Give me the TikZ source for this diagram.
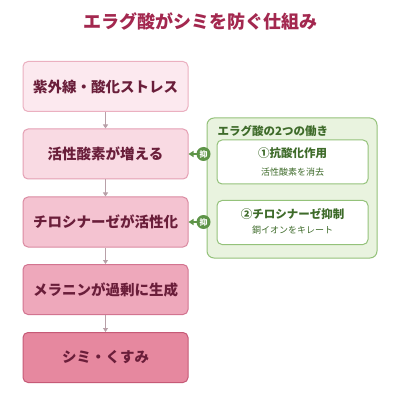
\documentclass[tikz,border=0pt]{standalone}
\usepackage{fontspec}
\newfontfamily\cjk{Noto Sans CJK JP}
\usetikzlibrary{arrows.meta}
\definecolor{ttl}{HTML}{A3284F}
\definecolor{txt}{HTML}{6A1E3A}
\definecolor{f1}{HTML}{FCE9EF}
\definecolor{f2}{HTML}{F9DAE3}
\definecolor{f3}{HTML}{F4C3D1}
\definecolor{f4}{HTML}{EEA8BB}
\definecolor{f5}{HTML}{E6889F}
\definecolor{b1}{HTML}{EBB0C0}
\definecolor{b2}{HTML}{E49FB3}
\definecolor{b3}{HTML}{DA8AA1}
\definecolor{b4}{HTML}{D27490}
\definecolor{b5}{HTML}{C65A77}
\definecolor{arr}{HTML}{B8A0A8}
\definecolor{gfill}{HTML}{E9F3DF}
\definecolor{gline}{HTML}{94C27A}
\definecolor{gtxt}{HTML}{3E6B2A}
\definecolor{gdark}{HTML}{5E9448}
\tikzset{
  flowbox/.style={draw, line width=1pt, rounded corners=5pt, minimum width=165pt, minimum height=50pt, text=txt, font=\cjk\bfseries\fontsize{14.5}{16}\selectfont, inner sep=0pt},
  innerbox/.style={draw=gline, line width=1pt, fill=white, rounded corners=5pt, minimum width=151pt, minimum height=44pt, inner sep=0pt},
  flowarr/.style={draw=arr, line width=1.2pt, -{Triangle[length=4pt,width=5pt]}},
  garr/.style={draw=gdark, line width=1.4pt, -{Triangle[length=5pt,width=6pt]}},
  badge/.style={circle, fill=gdark, minimum size=14pt, inner sep=0pt, text=white, font=\cjk\bfseries\fontsize{8}{8}\selectfont},
}
\begin{document}
\begin{tikzpicture}[x=1pt,y=-1pt]
\useasboundingbox[fill=white] (0,0) rectangle (400,411);
\node[text=ttl, font=\cjk\bfseries\fontsize{18}{20}\selectfont] (title) at (200,22) {エラグ酸がシミを防ぐ仕組み};
\node[flowbox, fill=f1, draw=b1] (s1) at (105.5,86.5) {紫外線・酸化ストレス};
\node[flowbox, fill=f2, draw=b2] (s2) at (105.5,154) {活性酸素が増える};
\node[flowbox, fill=f3, draw=b3] (s3) at (105.5,222) {チロシナーゼが活性化};
\node[flowbox, fill=f4, draw=b4] (s4) at (105.5,289.5) {メラニンが過剰に生成};
\node[flowbox, fill=f5, draw=b5] (s5) at (105.5,357.5) {シミ・くすみ};
\draw[flowarr] (s1.south) -- (s2.north);
\draw[flowarr] (s2.south) -- (s3.north);
\draw[flowarr] (s3.south) -- (s4.north);
\draw[flowarr] (s4.south) -- (s5.north);
\node[draw=gline, fill=gfill, line width=1pt, rounded corners=7pt, minimum width=170pt, minimum height=140pt, inner sep=0pt] (g) at (292,188) {};
\node[anchor=west, text=gtxt, font=\cjk\bfseries\fontsize{11.5}{13}\selectfont, inner sep=0pt] (glabel) at (217.5,131) {エラグ酸の2つの働き};
\node[innerbox] (i1) at (292.5,162) {};
\node[innerbox] (i2) at (292.5,222.5) {};
\node[text=gtxt, font=\cjk\bfseries\fontsize{11.5}{13}\selectfont, inner sep=0pt] (t1) at (292.5,153) {①抗酸化作用};
\node[text=gtxt, font=\cjk\fontsize{9}{11}\selectfont, inner sep=0pt] (u1) at (292.5,172) {活性酸素を消去};
\node[text=gtxt, font=\cjk\bfseries\fontsize{11.5}{13}\selectfont, inner sep=0pt] (t2) at (292.5,214) {②チロシナーゼ抑制};
\node[text=gtxt, font=\cjk\fontsize{9}{11}\selectfont, inner sep=0pt] (u2) at (292.5,230.5) {銅イオンをキレート};
\coordinate (c1) at (g.west |- s2.east);
\coordinate (c2) at (g.west |- s3.east);
\draw[garr] (c1) -- (s2.east);
\draw[garr] (c2) -- (s3.east);
\node[badge] (k1) at (203.5,154) {抑};
\node[badge] (k2) at (203.5,222) {抑};
\end{tikzpicture}
\end{document}
